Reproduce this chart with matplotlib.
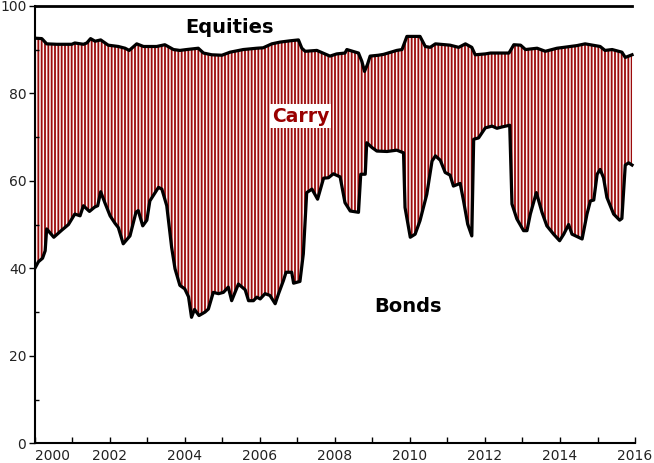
import matplotlib
matplotlib.use('Agg')
import matplotlib.pyplot as plt
import numpy as np

# lower edge of the carry band (bonds share), decimal years
bond_x = [2000.00, 2000.10, 2000.21, 2000.28, 2000.32, 2000.51, 2000.72, 2000.90,
          2001.07, 2001.21, 2001.30, 2001.46, 2001.60, 2001.68, 2001.76, 2001.87,
          2002.01, 2002.14, 2002.23, 2002.36, 2002.54, 2002.70, 2002.76, 2002.88,
          2002.99, 2003.07, 2003.30, 2003.39, 2003.52, 2003.65, 2003.74, 2003.87,
          2004.00, 2004.10, 2004.18, 2004.26, 2004.38, 2004.54, 2004.63, 2004.76,
          2004.90, 2005.03, 2005.16, 2005.25, 2005.43, 2005.61, 2005.70, 2005.83,
          2005.92, 2006.01, 2006.14, 2006.27, 2006.41, 2006.50, 2006.63, 2006.70,
          2006.85, 2006.90, 2007.07, 2007.16, 2007.25, 2007.39, 2007.54, 2007.70,
          2007.83, 2007.96, 2008.14, 2008.27, 2008.41, 2008.63, 2008.69, 2008.81,
          2008.85, 2008.99, 2009.12, 2009.39, 2009.65, 2009.83, 2009.87, 2010.01,
          2010.14, 2010.27, 2010.45, 2010.59, 2010.68, 2010.81, 2010.94, 2011.07,
          2011.16, 2011.34, 2011.43, 2011.54, 2011.65, 2011.70, 2011.83, 2012.01,
          2012.19, 2012.32, 2012.45, 2012.66, 2012.72, 2012.85, 2013.03, 2013.12,
          2013.21, 2013.37, 2013.52, 2013.65, 2013.83, 2013.99, 2014.10, 2014.23,
          2014.32, 2014.59, 2014.72, 2014.81, 2014.90, 2014.99, 2015.07, 2015.16,
          2015.25, 2015.43, 2015.59, 2015.65, 2015.74, 2015.83, 2015.92]
bond_y = [39.9, 41.5, 42.3, 44.0, 49.0, 47.1, 48.7, 50.0,
          52.4, 52.0, 54.3, 53.0, 54.0, 54.3, 57.5, 55.0,
          52.0, 50.3, 49.3, 45.6, 47.4, 52.8, 53.2, 49.7,
          51.0, 55.4, 58.5, 58.1, 54.3, 44.8, 39.9, 36.1,
          35.3, 33.5, 28.8, 30.6, 29.2, 30.0, 30.7, 34.5,
          34.2, 34.5, 35.7, 32.6, 36.4, 35.1, 32.6, 32.6,
          33.4, 33.0, 34.2, 33.8, 31.9, 34.2, 37.2, 39.1,
          39.1, 36.6, 37.0, 43.3, 57.3, 58.1, 55.8, 60.6,
          60.7, 61.6, 60.9, 55.0, 53.1, 52.8, 61.5, 61.5,
          68.7, 67.6, 66.8, 66.7, 67.0, 66.4, 53.9, 47.1,
          47.8, 50.9, 56.9, 64.5, 65.7, 64.7, 61.9, 61.3,
          58.8, 59.4, 55.4, 50.1, 47.4, 69.5, 69.8, 72.1,
          72.5, 72.0, 72.3, 72.7, 54.7, 51.3, 48.6, 48.6,
          52.4, 57.3, 52.8, 49.7, 47.8, 46.3, 47.8, 50.0,
          47.8, 46.7, 52.4, 55.4, 55.6, 61.5, 62.6, 60.7,
          56.2, 52.4, 51.0, 51.4, 63.6, 64.1, 63.6]

# upper edge of the carry band (bonds + carry)
carry_x = [2000.00, 2000.19, 2000.32, 2000.59, 2000.99, 2001.07, 2001.30, 2001.39,
           2001.49, 2001.61, 2001.76, 2001.96, 2002.23, 2002.41, 2002.52, 2002.72,
           2002.90, 2003.25, 2003.47, 2003.70, 2003.87, 2004.05, 2004.36, 2004.50,
           2004.72, 2004.99, 2005.21, 2005.56, 2005.92, 2006.09, 2006.32, 2006.54,
           2006.81, 2007.03, 2007.12, 2007.21, 2007.52, 2007.87, 2008.05, 2008.27,
           2008.32, 2008.63, 2008.72, 2008.79, 2008.87, 2008.94, 2009.16, 2009.30,
           2009.65, 2009.79, 2009.92, 2010.27, 2010.41, 2010.54, 2010.68, 2011.07,
           2011.30, 2011.48, 2011.65, 2011.74, 2012.01, 2012.15, 2012.64, 2012.77,
           2012.95, 2013.08, 2013.39, 2013.61, 2013.92, 2014.10, 2014.45, 2014.67,
           2015.07, 2015.20, 2015.39, 2015.65, 2015.74, 2015.89, 2015.92]
carry_y = [92.6, 92.5, 91.3, 91.2, 91.2, 91.5, 91.2, 91.5,
           92.5, 91.9, 92.2, 91.0, 90.7, 90.3, 89.8, 91.3,
           90.7, 90.7, 91.1, 90.0, 89.8, 90.0, 90.3, 89.2,
           88.8, 88.7, 89.4, 90.0, 90.3, 90.4, 91.3, 91.7,
           92.0, 92.2, 90.3, 89.6, 89.8, 88.5, 89.0, 89.2,
           90.0, 89.2, 87.3, 85.0, 86.6, 88.5, 88.7, 88.9,
           89.8, 90.0, 93.0, 93.0, 90.7, 90.5, 91.3, 91.0,
           90.5, 91.3, 90.5, 88.8, 89.0, 89.2, 89.2, 91.1,
           91.0, 90.0, 90.3, 89.6, 90.3, 90.5, 90.9, 91.3,
           90.7, 89.8, 90.0, 89.4, 88.2, 88.7, 88.8]

total = 100
year_ticks = list(range(2000, 2017, 2))

red = '#9b0a0a'
plt.rcParams['hatch.linewidth'] = 1.3

fig = plt.figure(figsize=(6.54, 4.63), dpi=100)
ax = fig.add_axes([0.053, 0.0425, 0.918, 0.945])

# carry band: upper edge forward, lower edge back
poly_x = np.r_[carry_x, bond_x[::-1]]
poly_y = np.r_[carry_y, bond_y[::-1]]
ax.fill(poly_x, poly_y, facecolor='#fdf3f3', edgecolor=red, hatch='|||||', linewidth=0)

ax.plot(bond_x, bond_y, color='black', lw=2.3, solid_joinstyle='round')
ax.plot(carry_x, carry_y, color='black', lw=2.3, solid_joinstyle='round')
ax.plot([carry_x[0], carry_x[-1]], [total, total], color='black', lw=2.0, clip_on=False)

ax.text(2005.19, 95.1, 'Equities', ha='center', va='center', fontsize=14,
        fontweight='bold', color='black')
ax.text(2007.09, 74.8, 'Carry', ha='center', va='center', fontsize=13.5,
        fontweight='bold', color='#990000',
        bbox=dict(facecolor='white', edgecolor='none', pad=1.5))
ax.text(2009.94, 31.3, 'Bonds', ha='center', va='center', fontsize=14,
        fontweight='bold', color='black')

ax.set_xlim(2000, 2016)
ax.set_ylim(0, 100)
for side in ['top', 'right']:
    ax.spines[side].set_visible(False)
ax.spines['left'].set_linewidth(1.5)
ax.spines['bottom'].set_linewidth(1.5)

ax.set_xticks(year_ticks)
ax.set_xticks(range(2001, 2016, 2), minor=True)
ax.set_yticks(range(0, 101, 20))
ax.set_yticks(range(10, 100, 20), minor=True)
ax.tick_params(axis='x', which='both', direction='in', length=4, width=1, pad=4,
               labelsize=10, labelcolor='#222222')
ax.tick_params(axis='y', which='major', direction='out', length=4, width=1, pad=2,
               labelsize=10, labelcolor='#222222')
ax.tick_params(axis='y', which='minor', direction='in', length=3, width=1)
ax.xaxis.get_major_ticks()[0].label1.set_horizontalalignment('left')

fig.savefig('out.png', dpi=100)
